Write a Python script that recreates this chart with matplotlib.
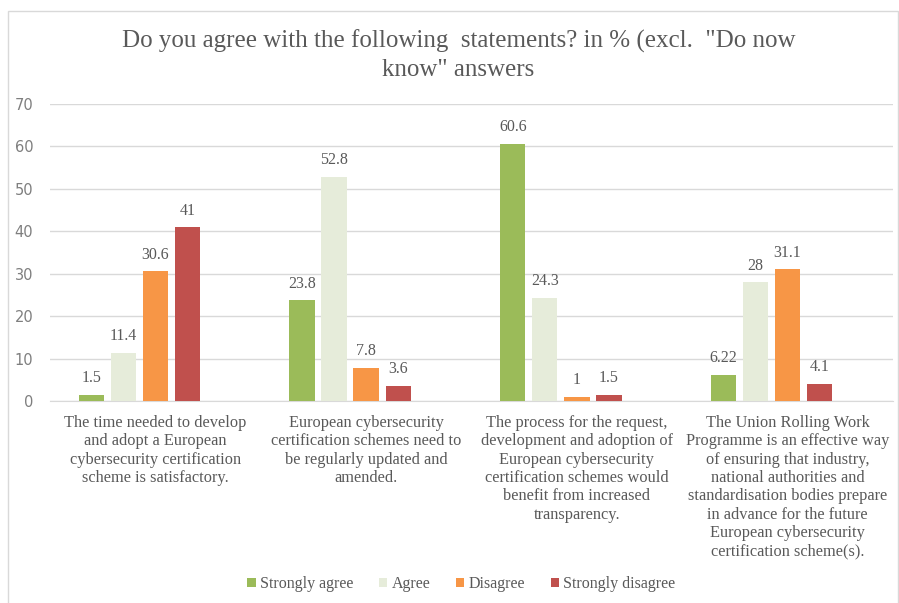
import matplotlib
matplotlib.use("Agg")
import matplotlib.pyplot as plt
from matplotlib.patches import Rectangle
import numpy as np

categories = [
    "The time needed to develop\nand adopt a European\ncybersecurity certification\nscheme is satisfactory.",
    "European cybersecurity\ncertification schemes need to\nbe regularly updated and\namended.",
    "The process for the request,\ndevelopment and adoption of\nEuropean cybersecurity\ncertification schemes would\nbenefit from increased\ntransparency.",
    "The Union Rolling Work\nProgramme is an effective way\nof ensuring that industry,\nnational authorities and\nstandardisation bodies prepare\nin advance for the future\nEuropean cybersecurity\ncertification scheme(s).",
]
series_names = ["Strongly agree", "Agree", "Disagree", "Strongly disagree"]
strongly_agree = [1.5, 23.8, 60.6, 6.22]
agree = [11.4, 52.8, 24.3, 28]
disagree = [30.6, 7.8, 1, 31.1]
strongly_disagree = [41, 3.6, 1.5, 4.1]
value_labels = [
    ["1.5", "23.8", "60.6", "6.22"],
    ["11.4", "52.8", "24.3", "28"],
    ["30.6", "7.8", "1", "31.1"],
    ["41", "3.6", "1.5", "4.1"],
]
yticks = [0, 10, 20, 30, 40, 50, 60, 70]
title = "Do you agree with the following  statements? in % (excl.  \"Do now\nknow\" answers"

colors = ["#9BBB59", "#E6ECDA", "#F79646", "#C0504D"]
text_gray = "#595959"
serif = ["Liberation Serif", "DejaVu Serif"]

fig = plt.figure(figsize=(8.99, 6.03), dpi=100)
fig.patches.append(Rectangle((8/899, -0.01), 0.999 - 8/899, 1 - 11/603 + 0.01,
                             transform=fig.transFigure, fill=False,
                             edgecolor="#D9D9D9", linewidth=1.0))

ax = fig.add_axes([50/899, 1 - 401/603, (893 - 50)/899, (401 - 104)/603])
data = [strongly_agree, agree, disagree, strongly_disagree]
x = np.arange(len(categories))
step = 0.152
width = 0.12
offsets = [-2, -1, 0, 1]
for i, (vals, col) in enumerate(zip(data, colors)):
    pos = x + offsets[i] * step
    bars = ax.bar(pos, vals, width=width, color=col, label=series_names[i], zorder=3)
    for b, lab in zip(bars, value_labels[i]):
        ax.text(b.get_x() + b.get_width() / 2, b.get_height() + 2.0, lab,
                ha="center", va="bottom", fontsize=11.5, color=text_gray, family=serif)

ax.set_xlim(-0.5, len(categories) - 0.5)
ax.set_ylim(0, 70)
ax.set_yticks(yticks)
ax.set_yticklabels([str(t) for t in yticks], fontsize=10.5, color="#7F7F7F")
ax.yaxis.grid(True, color="#D9D9D9", linewidth=1.0, zorder=0)
ax.set_axisbelow(True)
for s in ["top", "right", "left"]:
    ax.spines[s].set_visible(False)
ax.spines["bottom"].set_color("#D9D9D9")
ax.tick_params(axis="y", length=0, pad=12)
ax.tick_params(axis="x", length=0, pad=10)
ax.set_xticks(x)
ax.set_xticklabels(categories, fontsize=11.8, color=text_gray, family=serif, linespacing=1.2)

fig.text(0.51, 1 - 30/603, title, ha="center", va="top", fontsize=18,
         color=text_gray, family=serif, linespacing=1.3)

leg = fig.legend(loc="center", bbox_to_anchor=(0.513, 1 - 584/603), ncol=4, frameon=False,
                 prop={"family": serif, "size": 11.5}, handlelength=0.55, handleheight=0.55,
                 handletextpad=0.25, columnspacing=1.6)
for t in leg.get_texts():
    t.set_color(text_gray)

fig.savefig("out.png", dpi=100)
